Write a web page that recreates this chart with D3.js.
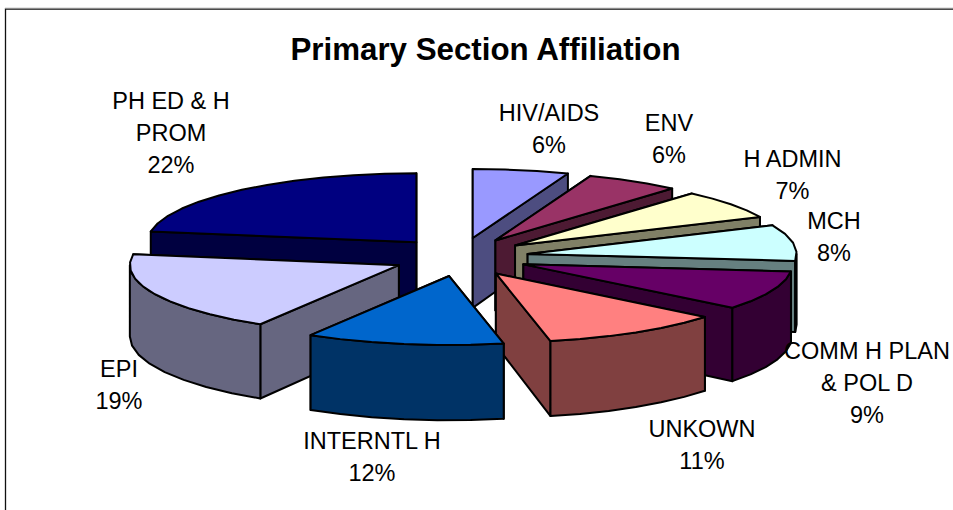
<!DOCTYPE html>
<html><head><meta charset="utf-8">
<style>html,body{margin:0;padding:0;background:#fff}svg{display:block}text{font-family:"Liberation Sans",Arial,sans-serif;fill:#000}</style>
<script src="https://cdn.jsdelivr.net/npm/d3@7"></script></head><body>
<script>
const categories = ["HIV/AIDS","ENV","H ADMIN","MCH","COMM H PLAN & POL D","UNKOWN","INTERNTL H","EPI","PH ED & H PROM"];
const values = [5.75,5.65,6.8,8.4,9.2,10.9,11.85,18.9,22.45];
const labelLines = [["HIV/AIDS"],["ENV"],["H ADMIN"],["MCH"],["COMM H PLAN","& POL D"],["UNKOWN"],["INTERNTL H"],["EPI"],["PH ED & H","PROM"]];
const palette = ["#9999FF","#993366","#FFFFCC","#CCFFFF","#660066","#FF8080","#0066CC","#CCCCFF","#000080"];

const W=953,H=510, cx=460.5, cy=257, rx=269, ry=69, ex=68, ey=19.3;
const labelPos = [[549,121],[669,131],[792.5,167],[834,229],[867,359],[702,437],[372,449],[119,377],[171,109]];
const paintOrder = [8,0,1,2,3,4,5,7,6];
const lineH = 32;

const svg=d3.select("body").append("svg").attr("width",W).attr("height",H);
svg.append("path").attr("d",`M${W},9H5.5V${H}`).attr("fill","none").attr("stroke","#111").attr("stroke-width",1.3);
svg.append("line").attr("x1",5).attr("x2",W).attr("y1",8).attr("y2",8).attr("stroke","#ccc").attr("stroke-width",1);
svg.append("text").attr("x",485.5).attr("y",60).attr("text-anchor","middle").attr("font-size",31.3).attr("font-weight","bold").text("Primary Section Affiliation");

const total=d3.sum(values);
const arcs=d3.pie().sort(null).value(d=>d).startAngle(0).endAngle(2*Math.PI)(values);
const line=d3.line().x(p=>p[0]).y(p=>p[1]);
const depth=y=>70+(y-240)*0.05;
const drop=p=>[p[0],p[1]+depth(p[1])];

function slice(a,i){
  const mid=(a.startAngle+a.endAngle)/2;
  const ox=cx+ex*Math.sin(mid), oy=cy-ey*Math.cos(mid);
  const pt=t=>[ox+rx*Math.sin(t),oy-ry*Math.cos(t)];
  const apex=[ox,oy];
  const samples=(t0,t1)=>{
    const n=Math.max(1,Math.round((t1-t0)/(7*Math.PI/180)));
    return d3.range(n+1).map(k=>pt(t0+(t1-t0)*k/n));
  };
  const c=d3.color(palette[i]);
  const side=d3.rgb(c.r*.5,c.g*.5,c.b*.5).formatHex();
  const g=svg.append("g").attr("stroke","#000").attr("stroke-width",2).attr("stroke-linejoin","round");
  const face=pts=>g.append("path").attr("d",line(pts)+"Z").attr("fill",side);
  const s=pt(a.startAngle), e=pt(a.endAngle);
  const faces=[[apex,s,drop(s),drop(apex)],[apex,e,drop(e),drop(apex)]];
  faces.sort((A,B)=>(A[1][1])-(B[1][1])).forEach(face);
  const lo=Math.max(a.startAngle,Math.PI/2), hi=Math.min(a.endAngle,3*Math.PI/2);
  if(hi>lo){const top=samples(lo,hi); face(top.concat(top.map(drop).reverse()));}
  g.append("path").attr("d",line([apex].concat(samples(a.startAngle,a.endAngle)))+"Z").attr("fill",palette[i]);
}
paintOrder.forEach(i=>slice(arcs[i],i));

categories.forEach((c,i)=>{
  const lines=labelLines[i].concat([Math.round(values[i]/total*100)+"%"]);
  const t=svg.append("text").attr("text-anchor","middle").attr("font-size",23.5);
  lines.forEach((l,k)=>t.append("tspan").attr("x",labelPos[i][0]).attr("y",labelPos[i][1]+k*lineH).text(l));
});
</script></body></html>
